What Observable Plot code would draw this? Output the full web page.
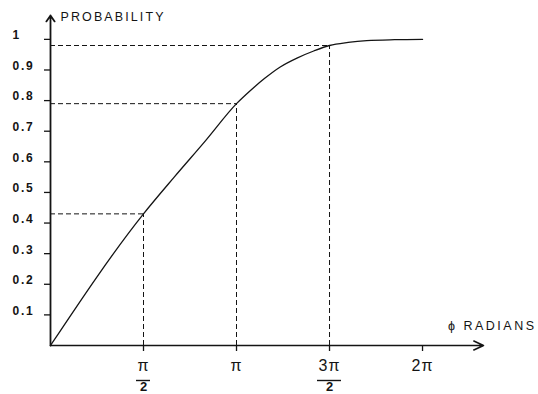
<!DOCTYPE html>
<html><head><meta charset="utf-8">
<script src="https://cdn.jsdelivr.net/npm/d3@7"></script>
<script src="https://cdn.jsdelivr.net/npm/@observablehq/plot@0.6"></script>
<style>
body{margin:0;background:#fff;}
#chart svg{display:block;}
</style></head><body><div id="chart"></div>
<script>
// Phase angle in units of π/2 and the probability curve
const phaseHalfPi = [0, 1, 1.33, 1.67, 2, 2.15, 2.3, 2.47, 2.65, 2.83, 3, 3.2, 3.4, 3.7, 4];
const probability = [0, 0.43, 0.55, 0.67, 0.79, 0.833, 0.872, 0.91, 0.939, 0.962, 0.98, 0.99, 0.996, 0.999, 1.0];
// Dashed guide points
const guidePhaseHalfPi = [1, 2, 3];
const guideProbability = [0.43, 0.79, 0.98];
// Axis ticks
const yTicks = [0.1, 0.2, 0.3, 0.4, 0.5, 0.6, 0.7, 0.8, 0.9, 1];
const yTickLabels = ["0.1", "0.2", "0.3", "0.4", "0.5", "0.6", "0.7", "0.8", "0.9", "1"];
const xTicksHalfPi = [1, 2, 3, 4];
const xTickNumerators = ["π", "π", "3π", "2π"];
const xTickDenominators = ["2", "", "2", ""];
const yTitle = "PROBABILITY";
const xTitle = "ϕ RADIANS";

const H = Math.PI / 2;
const curveData = phaseHalfPi.map((u, i) => ({x: u * H, y: probability[i]}));
const guides = guidePhaseHalfPi.map((u, i) => ({x: u * H, y: guideProbability[i]}));
const xT = xTicksHalfPi.map((u, i) => ({x: u * H, num: xTickNumerators[i], den: xTickDenominators[i]}));
const yT = yTicks.map((v, i) => ({y: v, label: yTickLabels[i]}));
const xMax = 7.313, yMax = 1.078;
const ink = "#141414";
const font = "'Liberation Sans', Arial, sans-serif";

const chart = Plot.plot({
  width: 538, height: 394,
  marginLeft: 50, marginRight: 55, marginTop: 15, marginBottom: 49,
  x: {domain: [0, xMax]},
  y: {domain: [0, yMax]},
  style: {fontFamily: font, background: "#fff", color: ink},
  marks: [
    Plot.ruleY(guides, {y: "y", x1: 0, x2: "x", stroke: ink, strokeWidth: 1, strokeDasharray: "5,3"}),
    Plot.ruleX(guides, {x: "x", y1: 0, y2: "y", stroke: ink, strokeWidth: 1, strokeDasharray: "5,3"}),
    Plot.line(curveData, {x: "x", y: "y", curve: "monotone-x", stroke: ink, strokeWidth: 1.3}),
    Plot.axisY({ticks: yTicks, tickSize: 6, tickFormat: () => "", label: null, stroke: ink, strokeWidth: 1.3}),
    Plot.axisX({ticks: xT.map(d => d.x), tickSize: 6, tickFormat: () => "", label: null, stroke: ink, strokeWidth: 1.3}),
    Plot.arrow([0], {x1: 0, y1: 0, x2: xMax, y2: 0, headLength: 10, headAngle: 50, stroke: ink, strokeWidth: 1.6}),
    Plot.arrow([0], {x1: 0, y1: 0, x2: 0, y2: yMax, headLength: 6, headAngle: 70, stroke: ink, strokeWidth: 1.8}),
    Plot.text(yT, {y: "y", text: "label", frameAnchor: "left", dx: -38, dy: -4, textAnchor: "start", fontSize: 12, fontWeight: "bold", fill: ink, ariaLabel: () => "y-tick-labels"}),
    Plot.text(xT, {x: "x", text: "num", frameAnchor: "bottom", dy: 25, fontSize: 16, fill: ink, ariaLabel: () => "x-tick-numerators"}),
    Plot.text(xT, {x: "x", text: "den", frameAnchor: "bottom", dy: 45, fontSize: 13, fontWeight: "bold", fill: ink}),
    Plot.ruleY(xT.filter(d => d.den && d.num.length === 1), {x1: "x", x2: "x", y: 0, insetLeft: -7, insetRight: -7, dy: 35, stroke: ink, strokeWidth: 1.4}),
    Plot.ruleY(xT.filter(d => d.den && d.num.length > 1), {x1: "x", x2: "x", y: 0, insetLeft: -12, insetRight: -12, dy: 35, stroke: ink, strokeWidth: 1.4}),
    Plot.text([yTitle], {text: d => d, frameAnchor: "top-left", dx: 10, dy: 1, textAnchor: "start", lineAnchor: "middle", fontSize: 12.5, fill: ink, ariaLabel: () => "y-title"}),
    Plot.text([xTitle], {text: d => d, frameAnchor: "bottom-right", dx: 53, dy: -20, textAnchor: "end", lineAnchor: "middle", fontSize: 12.5, fill: ink, ariaLabel: () => "x-title"})
  ]
});
const spacing = {"y-tick-labels": "1.8px", "y-title": "2.1px", "x-title": "2.5px", "x-tick-numerators": "1px"};
for (const [k, v] of Object.entries(spacing)) {
  d3.select(chart).selectAll(`text[aria-label="${k}"], g[aria-label="${k}"] text`).attr("letter-spacing", v).style("letter-spacing", v);
}
document.getElementById("chart").append(chart);
</script></body></html>
